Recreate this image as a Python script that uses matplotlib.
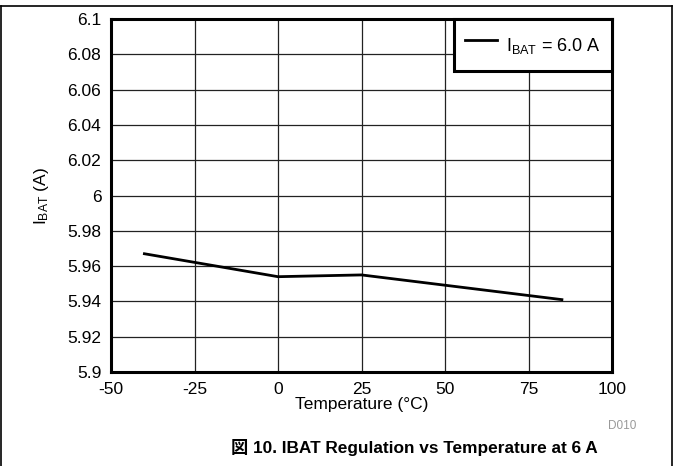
import matplotlib
matplotlib.use("Agg")
import matplotlib.pyplot as plt
from matplotlib.lines import Line2D

plt.rcParams['font.family'] = ['Liberation Sans', 'Noto Sans CJK JP', 'DejaVu Sans']
plt.rcParams['mathtext.fontset'] = 'custom'
plt.rcParams['mathtext.rm'] = 'Liberation Sans'
plt.rcParams['axes.unicode_minus'] = False

# データ
temperature = [-40, 0, 25, 85]
ibat = [5.967, 5.954, 5.955, 5.941]
xticks = [-50, -25, 0, 25, 50, 75, 100]
yticks = [5.9, 5.92, 5.94, 5.96, 5.98, 6.0, 6.02, 6.04, 6.06, 6.08, 6.1]
ytick_labels = ['5.9', '5.92', '5.94', '5.96', '5.98', '6', '6.02', '6.04', '6.06', '6.08', '6.1']

fig = plt.figure(figsize=(6.73, 4.66), dpi=100)
ax = fig.add_axes([111/673, 1 - 372/466, 501/673, 353/466])

ax.plot(temperature, ibat, color='black', lw=2, label=r'$\mathregular{I_{BAT}}$ = 6.0 A')

ax.set_xlim(-50, 100)
ax.set_ylim(5.9, 6.1)
ax.set_xticks(xticks)
ax.set_yticks(yticks)
ax.set_yticklabels(ytick_labels)
ax.tick_params(length=0, labelsize=12.5, pad=7)
ax.grid(True, color='#222222', lw=0.9)
ax.set_axisbelow(True)
for s in ax.spines.values():
    s.set_linewidth(2.2)
    s.set_color('black')

ax.set_xlabel('Temperature (°C)', fontsize=12.5, labelpad=0)
ax.set_ylabel(r'$\mathregular{I_{BAT}}$ (A)', fontsize=12.5, labelpad=12)

leg = ax.legend(loc='upper right', fontsize=13, fancybox=False, framealpha=1,
                edgecolor='black', borderaxespad=0, handlelength=1.8,
                handleheight=2.2, borderpad=0.6, handletextpad=0.5)
leg.get_frame().set_linewidth(2.2)

# 外枠
fig.add_artist(Line2D([0.002, 0.998], [1 - 6/466, 1 - 6/466], color='black', lw=1.2))
fig.add_artist(Line2D([0.002, 0.002], [0, 1 - 6/466], color='black', lw=1.2))
fig.add_artist(Line2D([0.998, 0.998], [0, 1 - 6/466], color='black', lw=1.2))

fig.text(622/673, 1 - 426/466, 'D010', color='#999999', fontsize=8.5, ha='center', va='center')
fig.text(414/673, 1 - 447/466, '図 10. IBAT Regulation vs Temperature at 6 A',
         fontsize=12.4, fontweight='bold', ha='center', va='center')

fig.savefig('out.png', dpi=100)
